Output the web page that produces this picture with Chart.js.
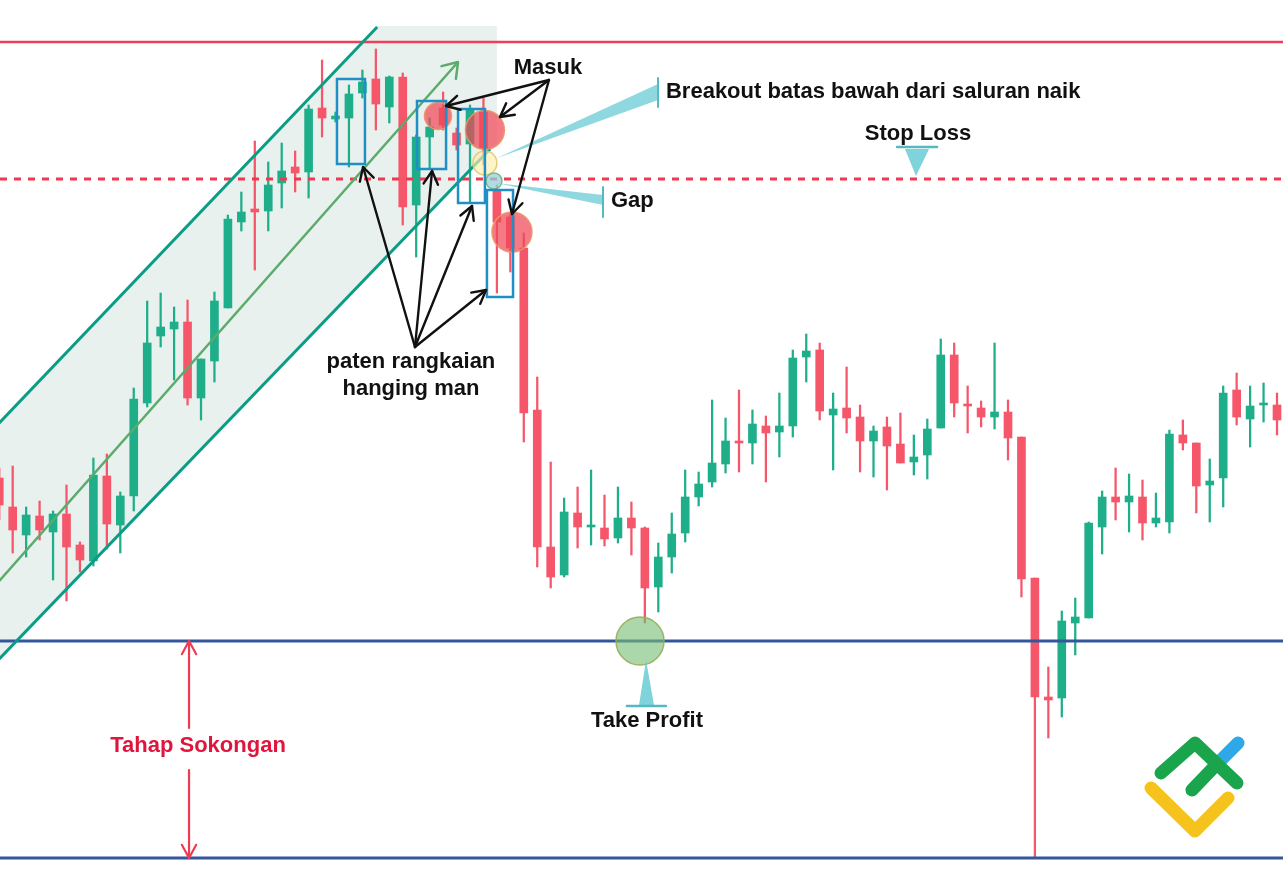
<!DOCTYPE html>
<html>
<head>
<meta charset="utf-8">
<title>Hanging man - saluran naik</title>
<script src="https://cdn.jsdelivr.net/npm/chart.js@4.4.1/dist/chart.umd.min.js"></script>
<style>
  html, body { margin: 0; padding: 0; background: #ffffff; }
  #wrap { width: 1283px; height: 888px; position: relative; }
</style>
</head>
<body>
<div id="wrap"><canvas id="chart"></canvas></div>
<script>
// ---------------------------------------------------------------------------
// Candles (index 0..95)
// ---------------------------------------------------------------------------
const OPEN  = [410,381,353,372,356,374,343,327,412,363, 392,485,552,559,566,490,527,580,666,679,
               677,705,721,716,780,769,770,795,809,781, 811,683,751,780,755,744,776,698,671,640,
               478,341,313,375,361,360,350,370,360,301, 331,355,391,406,424,447,445,462,456,462,
               531,538,473,480,471,447,461,444,426,433, 460,533,484,480,471,476,451,310,191,190,
               265,270,361,391,386,391,365,366,453,445, 403,410,498,469,483,483];
const HIGH  = [420,422,381,387,377,403,346,430,434,396, 500,587,595,581,588,529,596,673,696,747,
               726,745,737,783,828,776,803,818,839,812, 815,753,770,796,760,783,790,703,673,655,
               511,426,390,401,418,393,401,386,361,345, 375,418,416,488,470,498,478,472,495,538,
               554,545,495,521,483,462,471,475,453,469, 549,545,502,487,545,488,451,310,221,277,
               290,366,397,420,414,408,395,458,468,445, 429,502,515,502,505,495];
const LOW   = [368,335,331,348,308,287,316,322,339,335, 377,481,541,508,483,468,506,580,657,618,
               657,680,696,690,751,766,721,790,758,765, 663,631,720,758,738,686,723,595,616,446,
               321,300,311,340,343,342,345,333,265,276, 315,346,382,401,415,416,424,406,431,451,
               506,468,418,455,416,411,398,425,413,409, 460,471,455,461,459,428,291, 30,150,171,
               233,270,334,368,356,348,361,355,438,375, 366,381,463,441,466,453];
const CLOSE = [383,358,373,358,374,341,328,413,364,392, 489,545,561,566,490,529,587,669,676,676,
               703,717,715,779,770,772,794,806,784,811, 681,751,761,763,743,778,740,666,640,475,
               341,311,376,361,363,349,370,360,300,331, 354,391,404,425,447,445,464,455,462,530,
               537,477,479,470,447,457,442,425,431,459, 533,485,482,471,476,450,309,191,188,267,
               271,365,391,386,392,365,370,454,445,402, 407,495,471,482,485,468];

// Price levels
const RESISTANCE = 846;
const STOP_LOSS  = 709;
const TAKE_PROFIT = 247;
const SUPPORT    = 30;

// Ascending channel and trend arrow, [index, price]
const CHANNEL_UPPER = [[0, 465], [28.1, 861]];
const CHANNEL_LOWER = [[0, 229], [36.5, 739]];
const TREND_ARROW   = [[0, 307], [34.11, 826]];
const CHANNEL_AREA  = [[0, 465], [28.1, 862], [37.0, 862], [37.0, 746], [0, 229]];

// Hanging man boxes: [index from, index to, price top, price bottom]
const PATTERN_BOXES = [[25.11, 27.19, 809, 724], [31.06, 33.22, 787, 719],
                       [34.11, 36.11, 779, 685], [36.26, 38.20, 698, 591]];

// Markers: [index, price, radius]
const ENTRY_MARKS = [[32.62, 772, 13.5], [36.11, 758, 19.5], [38.12, 656, 20]];
const BREAK_MARK  = [36.11, 725, 12];
const GAP_MARK    = [36.78, 707, 8];
const TP_MARK     = [47.64, 247, 24];

// Arrows: origin and targets
const ENTRY_FROM = [40.87, 808];
const ENTRY_TO   = [[33.22, 782], [37.23, 771], [38.12, 674]];
const PATTERN_FROM = [30.91, 541];
const PATTERN_TO   = [[27.05, 721], [32.18, 717], [35.15, 682], [36.19, 598]];
const SUPPORT_ARROW_X = 14.11;
const SUPPORT_ARROW_SEGS = [[160, 247], [118, 30]];

// Labels
const LABELS = [
  { text: "Masuk", x: 40.80, y: 820, align: "center", color: "#111111" },
  { text: "Breakout batas bawah dari saluran naik", x: 49.57, y: 796, align: "left", color: "#111111" },
  { text: "Stop Loss", x: 68.31, y: 754, align: "center", color: "#111111" },
  { text: "Gap", x: 45.48, y: 687, align: "left", color: "#111111" },
  { text: "paten rangkaian", x: 30.61, y: 526, align: "center", color: "#111111" },
  { text: "hanging man", x: 30.61, y: 499, align: "center", color: "#111111" },
  { text: "Take Profit", x: 48.16, y: 167, align: "center", color: "#111111" },
  { text: "Tahap Sokongan", x: 14.78, y: 142, align: "center", color: "#e0153d" },
];

// Callout pointers (light teal)
const BREAKOUT_CALLOUT = { tip: [37.01, 730], baseX: 48.98, base: [804, 788], tick: [810, 781] };
const GAP_CALLOUT      = { tip: [36.93, 705], baseX: 44.89, base: [693, 683], tick: [701, 671] };
const SL_POINTER = { bar: [66.75, 69.72, 741], base: [67.34, 69.13, 739], tip: [68.16, 712] };
const TP_POINTER = { bar: [46.67, 49.57, 182], base: [47.57, 48.68, 183], tip: [48.09, 228] };

const X_MIN = 0.056, X_MAX = 95.446;

// ---------------------------------------------------------------------------
const UP   = "#1fae8a";
const DOWN = "#f5566a";
const FONT = "bold 22px 'Liberation Sans', Arial, sans-serif";

const idx = OPEN.map((_, i) => i);
const candleColor = idx.map(i => CLOSE[i] >= OPEN[i] ? UP : DOWN);

const hLine = (v, color, extra) => Object.assign({
  type: "line",
  data: [{ x: X_MIN, y: v }, { x: X_MAX, y: v }],
  borderColor: color, borderWidth: 3, pointRadius: 0, fill: false, order: 0,
}, extra || {});

const segLine = (pts, color, width) => ({
  type: "line",
  data: pts.map(p => ({ x: p[0], y: p[1] })),
  borderColor: color, borderWidth: width, pointRadius: 0, fill: false, order: 0,
});

function arrow(ctx, x1, y1, x2, y2, head) {
  ctx.beginPath(); ctx.moveTo(x1, y1); ctx.lineTo(x2, y2); ctx.stroke();
  const a = Math.atan2(y2 - y1, x2 - x1);
  ctx.beginPath();
  ctx.moveTo(x2 - head * Math.cos(a - 0.5), y2 - head * Math.sin(a - 0.5));
  ctx.lineTo(x2, y2);
  ctx.lineTo(x2 - head * Math.cos(a + 0.5), y2 - head * Math.sin(a + 0.5));
  ctx.stroke();
}

function circle(ctx, x, y, r, fill, stroke) {
  ctx.beginPath(); ctx.arc(x, y, r, 0, Math.PI * 2);
  ctx.fillStyle = fill; ctx.fill();
  ctx.lineWidth = 1.5; ctx.strokeStyle = stroke; ctx.stroke();
}

// gray channel background
const channelFill = {
  id: "channelFill",
  beforeDatasetsDraw(chart) {
    const { ctx, scales: { x, y } } = chart;
    ctx.save();
    ctx.beginPath();
    CHANNEL_AREA.forEach((p, i) => {
      const px = x.getPixelForValue(p[0]), py = y.getPixelForValue(p[1]);
      i ? ctx.lineTo(px, py) : ctx.moveTo(px, py);
    });
    ctx.closePath();
    ctx.fillStyle = "#e9f1ee";
    ctx.fill();
    ctx.restore();
  },
};

// markers, arrows, texts, logo
const annotations = {
  id: "annotations",
  afterDatasetsDraw(chart) {
    const { ctx, chartArea, scales: { x, y } } = chart;
    const X = v => x.getPixelForValue(v);
    const Y = v => y.getPixelForValue(v);
    ctx.save();
    ctx.lineCap = "round";
    ctx.lineJoin = "round";

    // trend arrow head
    ctx.strokeStyle = "#5aab6c"; ctx.lineWidth = 2.5;
    const [ta, tb] = TREND_ARROW;
    const ang = Math.atan2(Y(tb[1]) - Y(ta[1]), X(tb[0]) - X(ta[0]));
    ctx.beginPath();
    ctx.moveTo(X(tb[0]) - 17 * Math.cos(ang - 0.6), Y(tb[1]) - 17 * Math.sin(ang - 0.6));
    ctx.lineTo(X(tb[0]), Y(tb[1]));
    ctx.lineTo(X(tb[0]) - 17 * Math.cos(ang + 0.6), Y(tb[1]) - 17 * Math.sin(ang + 0.6));
    ctx.stroke();

    // entry / breakout / gap markers
    ENTRY_MARKS.forEach(m => circle(ctx, X(m[0]), Y(m[1]), m[2], "rgba(240,72,88,0.72)", "rgba(232,150,100,0.9)"));
    circle(ctx, X(BREAK_MARK[0]), Y(BREAK_MARK[1]), BREAK_MARK[2], "rgba(255,238,170,0.65)", "rgba(225,200,110,0.9)");
    circle(ctx, X(GAP_MARK[0]), Y(GAP_MARK[1]), GAP_MARK[2], "rgba(150,210,220,0.75)", "rgba(110,180,120,0.9)");
    circle(ctx, X(TP_MARK[0]), Y(TP_MARK[1]), TP_MARK[2], "rgba(120,190,120,0.62)", "rgba(150,175,90,0.9)");

    // pattern boxes
    ctx.strokeStyle = "#1f8fc6"; ctx.lineWidth = 2.5; ctx.lineJoin = "miter";
    PATTERN_BOXES.forEach(b => {
      ctx.strokeRect(X(b[0]), Y(b[2]), X(b[1]) - X(b[0]), Y(b[3]) - Y(b[2]));
    });
    ctx.lineJoin = "round";

    // teal callouts
    const callout = c => {
      ctx.fillStyle = "rgba(95,200,210,0.7)";
      ctx.beginPath();
      ctx.moveTo(X(c.tip[0]), Y(c.tip[1]));
      ctx.lineTo(X(c.baseX), Y(c.base[0]));
      ctx.lineTo(X(c.baseX), Y(c.base[1]));
      ctx.closePath(); ctx.fill();
      ctx.strokeStyle = "#55b9c4"; ctx.lineWidth = 2;
      ctx.beginPath(); ctx.moveTo(X(c.baseX), Y(c.tick[0])); ctx.lineTo(X(c.baseX), Y(c.tick[1])); ctx.stroke();
    };
    callout(BREAKOUT_CALLOUT);
    callout(GAP_CALLOUT);
    const pointer = p => {
      ctx.fillStyle = "rgba(95,200,210,0.8)";
      ctx.beginPath();
      ctx.moveTo(X(p.base[0]), Y(p.base[2]));
      ctx.lineTo(X(p.base[1]), Y(p.base[2]));
      ctx.lineTo(X(p.tip[0]), Y(p.tip[1]));
      ctx.closePath(); ctx.fill();
      ctx.strokeStyle = "#55b9c4"; ctx.lineWidth = 2.5;
      ctx.beginPath(); ctx.moveTo(X(p.bar[0]), Y(p.bar[2])); ctx.lineTo(X(p.bar[1]), Y(p.bar[2])); ctx.stroke();
    };
    pointer(SL_POINTER);
    pointer(TP_POINTER);

    // black arrows
    ctx.strokeStyle = "#111111"; ctx.lineWidth = 2.4;
    ENTRY_TO.forEach(t => arrow(ctx, X(ENTRY_FROM[0]), Y(ENTRY_FROM[1]), X(t[0]), Y(t[1]), 15));
    PATTERN_TO.forEach(t => arrow(ctx, X(PATTERN_FROM[0]), Y(PATTERN_FROM[1]), X(t[0]), Y(t[1]), 15));

    // support range arrows
    ctx.strokeStyle = "#ee3d52"; ctx.lineWidth = 2.2;
    const sx = X(SUPPORT_ARROW_X);
    SUPPORT_ARROW_SEGS.forEach(s => arrow(ctx, sx, Y(s[0]), sx, Y(s[1]), 15));

    // labels
    ctx.font = FONT;
    ctx.textBaseline = "middle";
    LABELS.forEach(l => {
      ctx.fillStyle = l.color;
      ctx.textAlign = l.align;
      ctx.fillText(l.text, X(l.x), Y(l.y));
    });

    // logo, bottom right
    const R = chartArea.right, B = chartArea.bottom;
    ctx.lineWidth = 13; ctx.lineCap = "round"; ctx.lineJoin = "round";
    const stroke = (pts, col) => {
      ctx.strokeStyle = col; ctx.beginPath();
      pts.forEach((p, i) => i ? ctx.lineTo(R + p[0], B + p[1]) : ctx.moveTo(R + p[0], B + p[1]));
      ctx.stroke();
    };
    stroke([[-132, -100], [-88, -57], [-55, -90]], "#f6c21c");
    stroke([[-64, -126], [-45, -145]], "#2ea8e6");
    stroke([[-122, -115], [-88, -145], [-46, -105]], "#1aa44c");
    stroke([[-91, -98], [-68, -122]], "#1aa44c");
    ctx.restore();
  },
};

new Chart(document.getElementById("chart"), {
  type: "bar",
  data: {
    datasets: [
      {
        label: "wick",
        data: idx.map(i => ({ x: i, y: [LOW[i], HIGH[i]] })),
        backgroundColor: candleColor,
        barThickness: 1.6,
        grouped: false,
        order: 3,
      },
      {
        label: "body",
        data: idx.map(i => ({ x: i, y: [Math.min(OPEN[i], CLOSE[i]), Math.max(OPEN[i], CLOSE[i])] })),
        backgroundColor: candleColor,
        barThickness: 8,
        minBarLength: 2,
        grouped: false,
        order: 2,
      },
      segLine(CHANNEL_UPPER, "#0a9d86", 3),
      segLine(CHANNEL_LOWER, "#0a9d86", 3),
      segLine(TREND_ARROW, "#5aab6c", 2.5),
      hLine(RESISTANCE, "#ee3f56", { borderWidth: 2.5 }),
      hLine(STOP_LOSS, "#f0394e", { borderDash: [7, 7] }),
      hLine(TAKE_PROFIT, "#34569a"),
      hLine(SUPPORT, "#34569a"),
    ],
  },
  options: {
    responsive: true,
    maintainAspectRatio: false,
    animation: false,
    devicePixelRatio: 1,
    layout: { padding: 0 },
    plugins: { legend: { display: false }, tooltip: { enabled: false } },
    scales: {
      x: { type: "linear", min: X_MIN, max: X_MAX, offset: false, display: false },
      y: { type: "linear", min: 0, max: 888, display: false },
    },
  },
  plugins: [channelFill, annotations],
});
</script>
</body>
</html>
